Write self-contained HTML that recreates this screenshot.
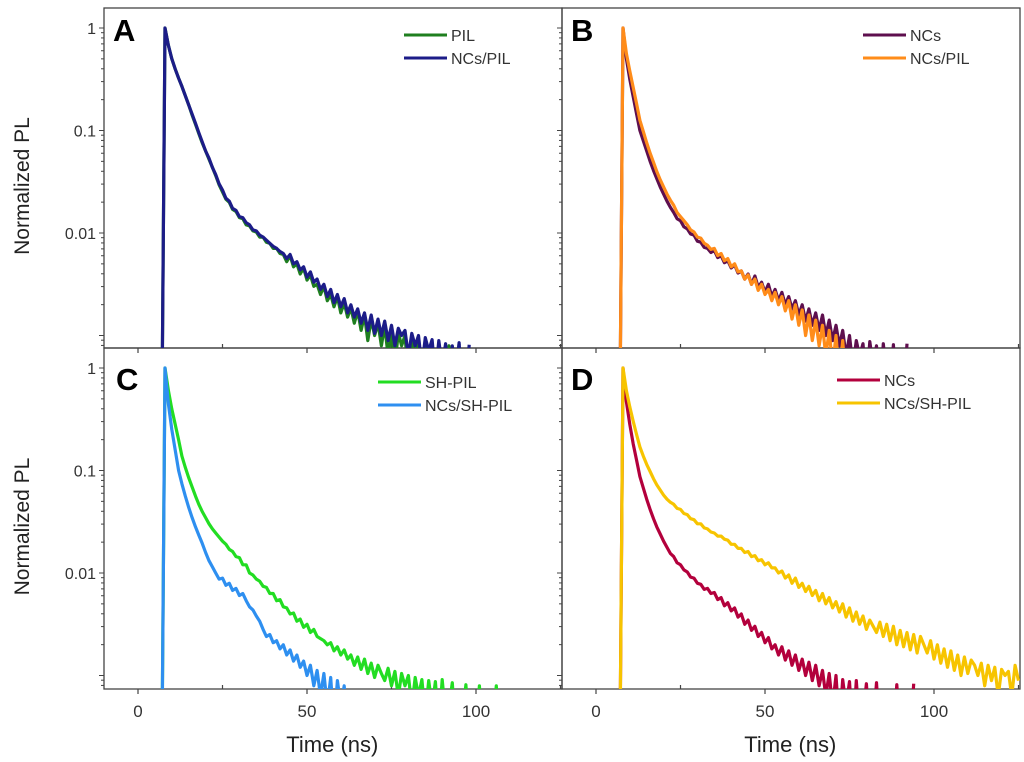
<!DOCTYPE html>
<html><head><meta charset="utf-8"><style>
html,body{margin:0;padding:0;background:#fff;}
svg{display:block;font-family:"Liberation Sans",Arial,sans-serif;}
</style></head><body>
<svg id="fig" width="1024" height="762" viewBox="0 0 1024 762">
<defs>
<clipPath id="cA"><rect x="104" y="8" width="458" height="340"/></clipPath>
<clipPath id="cB"><rect x="562" y="8" width="458" height="340"/></clipPath>
<clipPath id="cC"><rect x="104" y="348" width="458" height="341"/></clipPath>
<clipPath id="cD"><rect x="562" y="348" width="458" height="341"/></clipPath>
</defs>
<g id="axes"></g>
<g id="traces"></g>
<g id="labels"></g>
</svg>
<script>
// x-axis tick values and y-axis tick values
const xTicks = [0, 50, 100];
const xTickLabels = ["0", "50", "100"];
const yTicks = [1, 0.1, 0.01];
const yTickLabels = ["1", "0.1", "0.01"];
// all series start at t = 7 ns, step 1 ns; values are log10(normalized PL)
const tStart = 7;
const tStep = 1;
const A_PIL = [-4,0,-.17,-.3,-.4,-.49,-.57,-.66,-.75,-.85,-.94,-1.03,-1.12,-1.2,-1.28,-1.36,-1.44,-1.53,-1.6,-1.67,-1.7,-1.77,-1.79,-1.85,-1.86,-1.92,-1.93,-1.98,-1.99,-2.04,-2.04,-2.09,-2.1,-2.15,-2.15,-2.2,-2.21,
-2.28,-2.22,-2.33,-2.3,-2.4,-2.34,-2.46,-2.41,-2.52,-2.5,
-2.6,-2.52,-2.66,-2.6,-2.72,-2.62,-2.78,-2.68,-2.82,-2.73,
-2.88,-2.76,-2.95,-2.8,-3.05,-2.84,-3.0,-2.88,-3.1,
-2.9,-3.2,-2.95,-3.3,-2.97,-3.1,-3.0,-3.4,-3.02,-3.25,-3.04,-3.5,-3.05,-3.3,-3.07,-3.6,-3.08,-3.5,-3.3,-3.1,-3.6,-3.5,-3.08];
const A_NCsPIL = [-4,0,-.17,-.3,-.4,-.49,-.57,-.66,-.75,-.84,-.93,-1.02,-1.11,-1.2,-1.27,-1.36,-1.43,-1.52,-1.58,-1.66,-1.69,-1.76,-1.78,-1.84,-1.85,-1.9,-1.92,-1.97,-1.98,-2.02,-2.04,-2.07,-2.1,-2.13,-2.15,-2.18,-2.2,
-2.25,-2.21,-2.3,-2.28,-2.36,-2.33,-2.43,-2.38,-2.48,-2.45,
-2.55,-2.5,-2.62,-2.55,-2.68,-2.6,-2.72,-2.64,-2.78,-2.7,
-2.82,-2.74,-2.88,-2.78,-2.95,-2.8,-2.98,-2.84,-3.0,
-2.86,-3.05,-2.9,-3.1,-2.93,-3.0,-2.95,-3.2,-2.98,-3.1,-3.0,-3.3,-3.02,-3.15,-3.04,-3.4,-3.05,-3.3,-3.08,-3.5,-3.1,-3.4,-3.07,-3.6,-3.5,-3.09];
const B_NCs = [-4,0,-.3,-.5,-.67,-.84,-1.0,-1.1,-1.2,-1.3,-1.39,-1.47,-1.55,-1.62,-1.69,-1.75,-1.8,-1.86,-1.88,-1.94,-1.96,-2.01,-2.02,-2.08,-2.09,-2.14,-2.15,
-2.19,-2.17,-2.24,-2.22,-2.29,-2.27,-2.34,-2.31,-2.39,-2.37,
-2.45,-2.4,-2.5,-2.42,-2.53,-2.48,-2.58,-2.5,-2.62,-2.55,-2.66,-2.58,-2.7,-2.62,
-2.74,-2.66,-2.8,-2.7,-2.86,-2.74,-2.9,-2.78,-2.95,-2.8,-3.0,-2.85,-3.05,-2.9,-3.1,
-2.95,-3.2,-3.0,-3.3,-3.05,-3.2,-3.08,-3.5,-3.06,-3.3,-3.1,-3.6,-3.08,-3.4,-3.5,-3.09,-3.6,-3.5,-3.6,-3.08];
const B_NCsPIL = [-4,0,-.25,-.42,-.58,-.74,-.9,-1.01,-1.12,-1.22,-1.31,-1.4,-1.48,-1.55,-1.62,-1.68,-1.73,-1.8,-1.84,-1.88,-1.92,-1.97,-1.99,-2.04,-2.05,-2.1,-2.12,
-2.16,-2.15,-2.22,-2.2,-2.27,-2.25,-2.33,-2.3,-2.38,-2.37,
-2.45,-2.41,-2.5,-2.45,-2.56,-2.5,-2.6,-2.55,-2.66,-2.58,-2.7,-2.62,-2.76,-2.66,
-2.84,-2.7,-2.9,-2.75,-3.0,-2.8,-3.05,-2.85,-3.1,-2.9,-3.2,-2.95,-3.3,-3.0,-3.4,-3.05,-3.5,-3.6];
const C_SHPIL = [-4,0,-.22,-.4,-.55,-.7,-.86,-.97,-1.07,-1.16,-1.25,-1.33,-1.4,-1.46,-1.52,-1.57,-1.61,-1.65,-1.69,-1.72,-1.77,-1.79,-1.84,-1.85,-1.92,-1.92,-2.0,
-2.02,-2.06,-2.08,-2.13,-2.14,-2.2,-2.2,-2.27,-2.26,-2.33,
-2.34,-2.4,-2.39,-2.47,-2.45,-2.53,-2.5,-2.58,-2.55,-2.62,
-2.64,-2.66,-2.7,-2.68,-2.76,-2.72,-2.8,-2.75,-2.84,-2.8,
-2.9,-2.82,-2.94,-2.84,-2.98,-2.88,-3.02,-2.9,-2.98,
-3.05,-2.93,-3.1,-2.96,-3.2,-2.98,-3.1,-3.0,-3.3,-3.02,-3.2,-3.04,-3.4,-3.05,-3.3,-3.06,-3.5,-3.04,-3.4,-3.3,-3.07,-3.6,-3.5,-3.4,-3.09,-3.6,-3.5,-3.6,-3.1,-3.6,-3.5,-3.6,-3.5,-3.1,-3.6];
const C_NCsSHPIL = [-4,0,-.35,-.6,-.8,-1.0,-1.13,-1.25,-1.36,-1.46,-1.55,-1.63,-1.71,-1.8,-1.88,-1.94,-2.0,-2.06,-2.05,-2.12,-2.1,-2.17,-2.15,-2.22,-2.2,-2.27,-2.33,
-2.36,-2.42,-2.47,-2.55,-2.62,-2.6,-2.68,-2.66,-2.74,-2.7,-2.8,-2.75,-2.86,-2.8,-2.92,
-2.86,-3.0,-2.9,-3.1,-2.95,-3.2,-2.98,-3.3,-3.02,-3.5,-3.05,-3.3,-3.1,-3.6,-3.5,-3.6];
const D_NCs = [-4,0,-.33,-.55,-.74,-.9,-1.06,-1.17,-1.28,-1.38,-1.47,-1.55,-1.62,-1.69,-1.75,-1.81,-1.84,-1.9,-1.92,-1.97,-1.99,-2.04,-2.05,-2.1,-2.11,-2.16,-2.15,
-2.2,-2.19,-2.26,-2.24,-2.32,-2.29,-2.37,-2.34,-2.43,-2.4,
-2.5,-2.46,-2.56,-2.52,-2.62,-2.58,-2.68,-2.63,-2.74,-2.7,
-2.8,-2.72,-2.85,-2.76,-2.9,-2.8,-2.95,-2.84,-3.0,-2.87,-3.05,-2.9,-3.1,-2.95,
-3.2,-2.98,-3.3,-3.0,-3.5,-3.04,-3.3,-3.06,-3.6,-3.05,-3.5,-3.4,-3.08,-3.6,-3.5,-3.07,-3.6,-3.5,-3.6,-3.5,-3.6,-3.09,-3.6,-3.5,-3.6,-3.6,-3.08];
const D_NCsSHPIL = [-4,0,-.22,-.38,-.52,-.65,-.77,-.86,-.94,-1.01,-1.08,-1.14,-1.19,-1.24,-1.28,-1.31,-1.33,
-1.37,-1.38,-1.42,-1.43,-1.47,-1.48,-1.52,-1.52,-1.56,-1.57,-1.6,-1.61,-1.64,-1.64,-1.67,
-1.68,-1.72,-1.72,-1.76,-1.76,-1.8,-1.79,-1.84,-1.83,-1.88,-1.87,-1.92,-1.9,-1.95,
-1.95,-2.0,-1.98,-2.05,-2.02,-2.1,-2.05,-2.14,-2.1,-2.18,-2.13,-2.22,-2.17,-2.27,-2.2,
-2.3,-2.24,-2.34,-2.28,-2.38,-2.3,-2.43,-2.34,-2.47,-2.38,-2.5,-2.42,-2.55,-2.46,-2.52,
-2.58,-2.48,-2.62,-2.5,-2.66,-2.52,-2.7,-2.56,-2.72,-2.58,-2.75,-2.6,-2.78,-2.62,-2.7,
-2.78,-2.66,-2.84,-2.7,-2.88,-2.74,-2.92,-2.76,-2.95,-2.8,-3.0,-2.82,-2.98,-2.85,-2.9,
-3.0,-2.88,-3.1,-2.9,-3.05,-2.92,-3.2,-2.94,-3.0,-2.96,-3.2,-2.9,-3.05];

const NS = "http://www.w3.org/2000/svg";
const axesG = document.getElementById("axes");
const tracesG = document.getElementById("traces");
const labelsG = document.getElementById("labels");
function mk(tag, attrs, parent, text){
  const e = document.createElementNS(NS, tag);
  for (const k in attrs) e.setAttribute(k, attrs[k]);
  if (text !== undefined) e.textContent = text;
  parent.appendChild(e);
  return e;
}
const PX_PER_NS = 3.38, DEC = 102.5;
const panels = [
  {id:"a", letter:"A", x0:104, x1:562, y0:8, y1:348, zeroX:138, oneY:28, clip:"cA", lx:113, ly:41,
   legX:404, legY:35, series:[{n:"PIL", d:A_PIL, c:"#1f7f1f"},{n:"NCs/PIL", d:A_NCsPIL, c:"#1c1c88"}]},
  {id:"b", letter:"B", x0:562, x1:1020, y0:8, y1:348, zeroX:596, oneY:28, clip:"cB", lx:571, ly:41,
   legX:863, legY:35, series:[{n:"NCs", d:B_NCs, c:"#5e0f4e"},{n:"NCs/PIL", d:B_NCsPIL, c:"#ff8c1a"}]},
  {id:"c", letter:"C", x0:104, x1:562, y0:348, y1:689, zeroX:138, oneY:368, clip:"cC", lx:116, ly:390,
   legX:378, legY:382, series:[{n:"SH-PIL", d:C_SHPIL, c:"#22dd22"},{n:"NCs/SH-PIL", d:C_NCsSHPIL, c:"#2e8ff0"}]},
  {id:"d", letter:"D", x0:562, x1:1020, y0:348, y1:689, zeroX:596, oneY:368, clip:"cD", lx:571, ly:390,
   legX:837, legY:380, series:[{n:"NCs", d:D_NCs, c:"#b3003c"},{n:"NCs/SH-PIL", d:D_NCsSHPIL, c:"#f7c400"}]}
];
panels.forEach(p => {
  const X = t => p.zeroX + t * PX_PER_NS;
  const Y = lv => p.oneY - lv * DEC;
  const fr = mk("rect", {x:p.x0, y:p.y0, width:p.x1-p.x0, height:p.y1-p.y0, fill:"none", stroke:"#444", "stroke-width":1.3}, axesG);
  
  
  for (let t = 0; t <= 125; t += 25) {
    const major = t % 50 === 0;
    const tk = mk("line", {x1:X(t), x2:X(t), y1:p.y1, y2:p.y1 + (major ? 5 : -4), stroke:"#444", "stroke-width":1.2}, axesG);
    
    
  }
  for (let dcd = 1; dcd >= -3; dcd--) {
    for (let m = 1; m <= 9; m++) {
      const yPos = Y(dcd - 1 + Math.log10(m));
      if (yPos < p.y0 || yPos > p.y1) continue;
      const tk = mk("line", {x1:p.x0, x2:p.x0 - (m === 1 ? 5 : 3), y1:yPos, y2:yPos, stroke:"#444", "stroke-width":1}, axesG);
      
      
    }
  }
  if (p.x0 === 104) {
    yTicks.forEach((v, i) => {
      const lb = mk("text", {x:96, y:Y(Math.log10(v)) + 6, "text-anchor":"end", "font-size":16, fill:"#333"}, labelsG, yTickLabels[i]);
      
      
    });
    const yt = mk("text", {x:0, y:0, "text-anchor":"middle", "font-size":21, fill:"#222",
      transform:"translate(29," + ((p.y0 + p.y1) / 2 + 8) + ") rotate(-90)"}, labelsG, "Normalized PL");
    
    
  }
  if (p.y1 === 689) {
    xTicks.forEach((v, i) => {
      const lb = mk("text", {x:X(v), y:717, "text-anchor":"middle", "font-size":17, fill:"#333"}, labelsG, xTickLabels[i]);
      
      
    });
    const xt = mk("text", {x:X(57.5), y:752, "text-anchor":"middle", "font-size":22, fill:"#222"}, labelsG, "Time (ns)");
    
    
  }
  const g = mk("g", {"clip-path":"url(#" + p.clip + ")"}, tracesG);
  
  
  p.series.forEach((s, si) => {
    const pts = s.d.map((lv, i) => X(tStart + i * tStep).toFixed(1) + "," + Y(lv).toFixed(1)).join(" ");
    const pl = mk("polyline", {points:pts, fill:"none", stroke:s.c, "stroke-width":3.2, "stroke-linejoin":"round"}, g);
    
    
    const ly = p.legY + si * 23;
    const ll = mk("line", {x1:p.legX, x2:p.legX + 43, y1:ly, y2:ly, stroke:s.c, "stroke-width":3}, labelsG);
    
    
    const lt = mk("text", {x:p.legX + 47, y:ly + 6, "font-size":16, fill:"#333"}, labelsG, s.n);
    
    
  });
  const L = mk("text", {x:p.lx, y:p.ly, "font-size":31, "font-weight":"bold", fill:"#000"}, labelsG, p.letter);
  
  
});
</script>
</body></html>
